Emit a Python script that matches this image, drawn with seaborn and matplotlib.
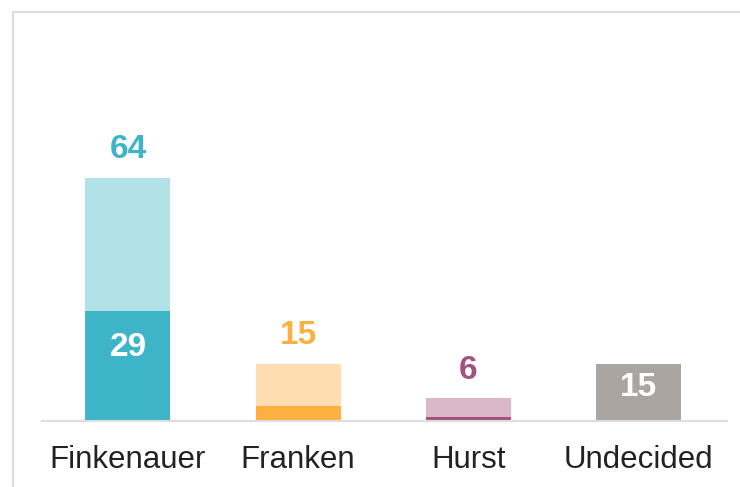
import matplotlib.pyplot as plt
from matplotlib.lines import Line2D
import seaborn as sns

candidates = ["Finkenauer", "Franken", "Hurst", "Undecided"]
total = [64, 15, 6, 15]
firm = [29, 4, 1, 15]

light_colors = ["#b2e1e8", "#fedeb0", "#dbb7c9", "#aba5a1"]
dark_colors = ["#3db4c7", "#fbb040", "#a1527f", "#aba5a1"]

sns.set_style("white")
plt.rcParams["font.family"] = ["Liberation Sans", "DejaVu Sans"]

fig = plt.figure(figsize=(7.4, 4.87), dpi=100)
ax = fig.add_axes([42 / 740, 66 / 487, 685 / 740, 361 / 487])

sns.barplot(x=candidates, y=total, hue=candidates, palette=light_colors,
            width=0.5, saturation=1, legend=False, linewidth=0, ax=ax)
sns.barplot(x=candidates, y=firm, hue=candidates, palette=dark_colors,
            width=0.5, saturation=1, legend=False, linewidth=0, ax=ax)

ax.set_ylim(0, 95)
ax.set_xlim(-0.505, 3.52)
ax.set_yticks([])
ax.tick_params(axis="x", length=0, pad=17, labelsize=22.5, labelcolor="#222222")
sns.despine(ax=ax, left=True)
ax.spines["bottom"].set_color("#dddddd")
ax.spines["bottom"].set_linewidth(1.5)

# totals above the bars
for i in range(3):
    ax.annotate(str(total[i]), (i, total[i]), xytext=(0, 28), textcoords="offset pixels",
                ha="center", va="center", fontsize=24, fontweight="bold", color=dark_colors[i])
# white numbers inside
ax.annotate(str(firm[0]), (0, firm[0]), xytext=(0, -37), textcoords="offset pixels",
            ha="center", va="center", fontsize=24, fontweight="bold", color="white")
ax.annotate(str(total[3]), (3, total[3]), xytext=(0, -23), textcoords="offset pixels",
            ha="center", va="center", fontsize=24, fontweight="bold", color="white")

# outer frame lines (left and top)
fig.add_artist(Line2D([13 / 740, 13 / 740], [0, 1 - 12 / 487], color="#dddddd", lw=1.5))
fig.add_artist(Line2D([13 / 740, 1], [1 - 12 / 487, 1 - 12 / 487], color="#dddddd", lw=1.5))

fig.savefig("out.png", dpi=100)
